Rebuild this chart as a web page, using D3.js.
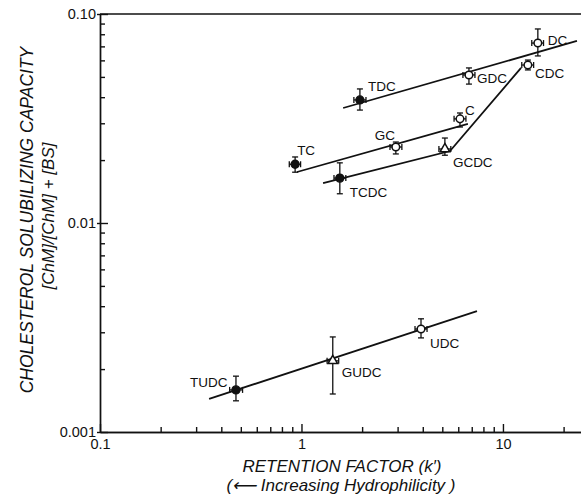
<!DOCTYPE html>
<html><head><meta charset="utf-8">
<script src="https://cdn.jsdelivr.net/npm/d3@7"></script>
<style>
html,body{margin:0;padding:0;background:#fff;}
svg{display:block;}
text{font-family:"Liberation Sans",Arial,Helvetica,sans-serif;fill:#111;}
</style></head>
<body>
<svg id="chart" width="581" height="498"></svg>
<script>
// ---- data ----
const names     = ["TC","TCDC","GC","C","GCDC","TDC","GDC","DC","CDC","TUDC","GUDC","UDC"];
const kPrime    = [0.93, 1.55, 2.94, 6.12, 5.15, 1.95, 6.78, 14.9, 13.3, 0.473, 1.43, 3.92];
const kLow      = [0.87, 1.45, 2.75, 5.72, 4.81, 1.82, 6.33, 13.9, 12.4, 0.44, 1.34, 3.66];
const kHigh     = [0.99, 1.66, 3.15, 6.55, 5.51, 2.09, 7.26, 15.9, 14.2, 0.51, 1.53, 4.20];
const capacity  = [0.0191, 0.0164, 0.0231, 0.0315, 0.0226, 0.0388, 0.0511, 0.0726, 0.057, 0.00159, 0.00219, 0.00311];
const capLow    = [0.0175, 0.0138, 0.0214, 0.0288, 0.0211, 0.0347, 0.0462, 0.0630, 0.054, 0.00141, 0.00152, 0.00282];
const capHigh   = [0.0207, 0.0194, 0.0244, 0.0336, 0.0255, 0.0438, 0.0552, 0.0848, 0.0602, 0.00185, 0.00285, 0.00348];
const markerKind = ["filled","filled","open","open","triangle","filled","open","open","open","filled","triangle","open"];

const fitTDC_k  = [1.61, 23.3];          const fitTDC_c  = [0.0355, 0.0743];
const fitTC_k   = [0.95, 6.70];          const fitTC_c   = [0.01754, 0.0298];
const fitTCDC_k = [1.28, 5.46, 12.3];    const fitTCDC_c = [0.01552, 0.0221, 0.0552];
const fitUDC_k  = [0.348, 7.43];         const fitUDC_c  = [0.00144, 0.00379];

const xMajorTicks = [0.1, 1, 10];
const xMajorLabels = ["0.1", "1", "10"];
const xMinorTicks = [0.2,0.3,0.4,0.5,0.6,0.7,0.8,0.9,2,3,4,5,6,7,8,9,20];
const yMajorTicks = [0.001, 0.01, 0.1];
const yMajorLabels = ["0.001", "0.01", "0.10"];
const yMinorTicks = [0.002,0.003,0.004,0.005,0.006,0.007,0.008,0.009,0.02,0.03,0.04,0.05,0.06,0.07,0.08,0.09];

const yTitle1 = "CHOLESTEROL SOLUBILIZING CAPACITY";
const yTitle2 = "[ChM]/[ChM] + [BS]";
const xTitle1 = "RETENTION FACTOR (k\u2032)";
const xTitle2 = "(\u27F5 Increasing Hydrophilicity )";

// ---- drawing ----
const svg = d3.select("#chart");
const L = 100, R = 581, T = 14, B = 432;
const x = d3.scaleLog().domain([0.1, 24.4]).range([L, R]);
const y = d3.scaleLog().domain([0.001, 0.1]).range([B, T]);
const ink = "#111";

// axes
const gx = svg.append("g").attr("transform", `translate(0,${B})`);
gx.call(d3.axisBottom(x).tickValues(xMinorTicks).tickSizeInner(-5).tickSizeOuter(0).tickFormat(""));
const gx2 = svg.append("g").attr("transform", `translate(0,${B})`);
gx2.call(d3.axisBottom(x).tickValues(xMajorTicks).tickSizeInner(-8).tickSizeOuter(0).tickPadding(7)
  .tickFormat((d,i) => xMajorLabels[i]));

const gy = svg.append("g").attr("transform", `translate(${L},0)`);
gy.call(d3.axisLeft(y).tickValues(yMinorTicks).tickSizeInner(-5).tickSizeOuter(0).tickFormat(""));
const gy2 = svg.append("g").attr("transform", `translate(${L},0)`);
gy2.call(d3.axisLeft(y).tickValues(yMajorTicks).tickSizeInner(-8).tickSizeOuter(0).tickPadding(4)
  .tickFormat((d,i) => yMajorLabels[i]));
const gy3 = svg.append("g").attr("transform", `translate(${L},0)`);
gy3.call(d3.axisLeft(y).tickValues(yMajorTicks).tickSizeInner(3).tickSizeOuter(0).tickFormat(""));
gy3.select(".domain").remove();

[gx, gx2, gy, gy2, gy3].forEach(g => {
  g.selectAll("path,line").attr("stroke", ink).attr("stroke-width", 1.4);
  g.selectAll("text").attr("fill", ink).style("font-size", "14.5px")
    .style("font-family", '"Liberation Sans",Arial,sans-serif');
});
gy2.selectAll("text").attr("dy", "0.3em");

// top frame line
svg.append("path").attr("d", d3.line()([[x(0.1), y(0.1)], [x(24.4), y(0.1)]]))
  .attr("stroke", ink).attr("stroke-width", 1.4).attr("fill", "none");

// fitted lines
const lineGen = d3.line().x(d => x(d[0])).y(d => y(d[1]));
[[fitTDC_k, fitTDC_c], [fitTC_k, fitTC_c], [fitTCDC_k, fitTCDC_c], [fitUDC_k, fitUDC_c]].forEach(([ks, cs]) => {
  svg.append("path").attr("d", lineGen(d3.zip(ks, cs)))
    .attr("fill", "none").attr("stroke", ink).attr("stroke-width", 1.8);
});

// points with error bars
const pts = names.map((n, i) => ({n, k: kPrime[i], c: capacity[i], kl: kLow[i], kh: kHigh[i],
  cl: capLow[i], ch: capHigh[i], m: markerKind[i]}));
const cap = 3;
const gp = svg.append("g");
pts.forEach(p => {
  const px = x(p.k), py = y(p.c);
  const g = gp.append("g").attr("stroke", ink).attr("stroke-width", 1.3).attr("fill", "none");
  g.append("line").attr("x1", px).attr("x2", px).attr("y1", y(p.ch)).attr("y2", y(p.cl));
  g.append("line").attr("x1", px - cap).attr("x2", px + cap).attr("y1", y(p.ch)).attr("y2", y(p.ch));
  g.append("line").attr("x1", px - cap).attr("x2", px + cap).attr("y1", y(p.cl)).attr("y2", y(p.cl));
  g.append("line").attr("x1", x(p.kl)).attr("x2", x(p.kh)).attr("y1", py).attr("y2", py);
  g.append("line").attr("x1", x(p.kl)).attr("x2", x(p.kl)).attr("y1", py - cap).attr("y2", py + cap);
  g.append("line").attr("x1", x(p.kh)).attr("x2", x(p.kh)).attr("y1", py - cap).attr("y2", py + cap);
  if (p.m === "filled") {
    g.append("circle").attr("cx", px).attr("cy", py).attr("r", 4).attr("fill", ink);
  } else if (p.m === "open") {
    g.append("circle").attr("cx", px).attr("cy", py).attr("r", 3.8).attr("fill", "#fff").attr("stroke-width", 1.5);
  } else {
    g.append("path").attr("transform", `translate(${px},${py})`)
      .attr("d", d3.symbol(d3.symbolTriangle, 40)()).attr("fill", "#fff").attr("stroke-width", 1.5);
  }
});

// point labels (offsets in px)
const labelOffset = {TC:[2,-9], TCDC:[10,19], GC:[-21,-7], C:[5,-4], GCDC:[8,18], TDC:[8,-9],
  GDC:[8,8], DC:[10,2], CDC:[7,13], TUDC:[-46,-3], GUDC:[9,16], UDC:[9,19]};
pts.forEach(p => {
  const o = labelOffset[p.n];
  svg.append("text").attr("x", x(p.k) + o[0]).attr("y", y(p.c) + o[1])
    .style("font-size", "13.5px").text(p.n);
});

// axis titles
svg.append("text").attr("transform", "translate(33,220) rotate(-90)").attr("text-anchor", "middle")
  .style("font-size", "17.5px").style("font-style", "italic").text(yTitle1);
svg.append("text").attr("transform", "translate(54,216) rotate(-90)").attr("text-anchor", "middle")
  .style("font-size", "17px").style("font-style", "italic").text(yTitle2);
svg.append("text").attr("x", 342).attr("y", 472).attr("text-anchor", "middle")
  .style("font-size", "17px").style("font-style", "italic").text(xTitle1);
svg.append("text").attr("x", 341).attr("y", 491).attr("text-anchor", "middle")
  .style("font-size", "17px").style("font-style", "italic").text(xTitle2);
</script>
</body></html>
